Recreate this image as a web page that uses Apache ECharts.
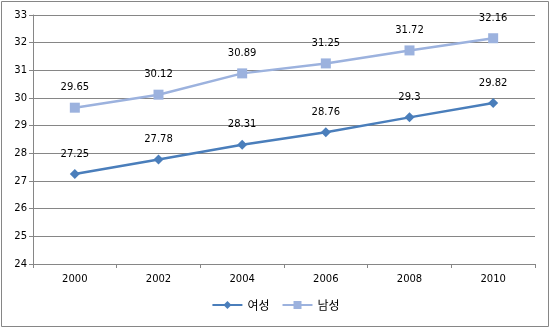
<!DOCTYPE html>
<html><head><meta charset="utf-8">
<script src="https://cdn.jsdelivr.net/npm/echarts@6/dist/echarts.min.js"></script>
<style>html,body{margin:0;padding:0;background:#fff}#c{width:551px;height:330px}</style>
</head><body><div id="c"></div>
<script>
const categories = ['2000','2002','2004','2006','2008','2010'];
const female = [27.25, 27.78, 28.31, 28.76, 29.3, 29.82];
const male = [29.65, 30.12, 30.89, 31.25, 31.72, 32.16];
const seriesNames = ['여성','남성'];
const yMin = 24, yMax = 33, yStep = 1;

const font = 'DejaVu Sans, Verdana, sans-serif';
const chart = echarts.init(document.getElementById('c'), null, {renderer:'canvas'});
chart.setOption({
  animation:false,
  backgroundColor:'#fff',
  graphic:[{type:'rect', shape:{x:1.5,y:1.5,width:547,height:325}, style:{fill:'none', stroke:'#868686', lineWidth:1}}],
  grid:{left:33, right:16, top:15, bottom:66},
  legend:{
    data:seriesNames, bottom:14, left:'center', itemWidth:30, itemHeight:10, itemGap:12,
    textStyle:{fontFamily:'Noto Sans CJK KR', fontSize:12, color:'#000'}
  },
  xAxis:{
    type:'category', data:categories, boundaryGap:true,
    axisLine:{lineStyle:{color:'#868686'}},
    axisTick:{show:true, length:4, lineStyle:{color:'#868686'}},
    axisLabel:{fontFamily:font, fontSize:10, color:'#000', margin:10}
  },
  yAxis:{
    type:'value', min:yMin, max:yMax, interval:yStep,
    axisLine:{show:true, lineStyle:{color:'#868686'}},
    axisTick:{show:true, length:4, lineStyle:{color:'#868686'}},
    splitLine:{lineStyle:{color:'#868686', width:1}},
    axisLabel:{fontFamily:font, fontSize:10, color:'#000', margin:6}
  },
  series:[
    {name:seriesNames[0], type:'line', data:female, color:'#4A7EBB',
     symbol:'diamond', symbolSize:10, lineStyle:{width:2.5, color:'#4A7EBB'},
     itemStyle:{color:'#4A7EBB'},
     label:{show:true, position:'top', distance:10, fontFamily:font, fontSize:10, color:'#000'}},
    {name:seriesNames[1], type:'line', data:male, color:'#9CB2DE',
     symbol:'rect', symbolSize:10, lineStyle:{width:2.5, color:'#9CB2DE'},
     itemStyle:{color:'#9CB2DE'},
     label:{show:true, position:'top', distance:10, fontFamily:font, fontSize:10, color:'#000'}}
  ]
});
</script></body></html>
